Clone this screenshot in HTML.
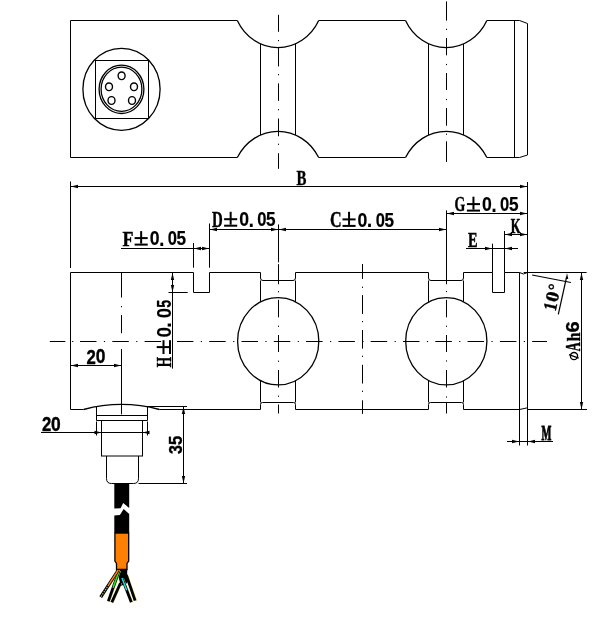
<!DOCTYPE html>
<html><head><meta charset="utf-8"><style>
html,body{margin:0;padding:0;background:#fff;overflow:hidden;}
svg{display:block;will-change:transform;}
</style></head><body>
<svg width="612" height="620" viewBox="0 0 612 620">
<rect width="612" height="620" fill="#fff"/>
<g stroke="#000" fill="none" stroke-linecap="butt">
<path d="M 237.30 20.5 H 70.5 V 157.5 H 237.30 M 318.70 157.5 H 405.50 M 486.90 157.5 H 519.5 L 527.5 155 V 23.5 L 519.5 20.5 H 486.90 M 405.50 20.5 H 318.70" stroke-width="1" fill="none"/>
<path d="M 237.30 20.5 A 45.55 49.20 0 0 0 318.70 20.5 M 237.30 157.5 A 46.27 49.97 0 0 1 318.70 157.5 M 405.50 20.5 A 45.55 49.20 0 0 0 486.90 20.5 M 405.50 157.5 A 46.27 49.97 0 0 1 486.90 157.5 " stroke-width="1.3" fill="none"/>
<line x1="514.5" y1="20.5" x2="514.5" y2="157.5" stroke-width="1"/>
<line x1="260.5" y1="43.82" x2="260.5" y2="135.01" stroke-width="1"/>
<line x1="295.5" y1="43.82" x2="295.5" y2="135.01" stroke-width="1"/>
<line x1="428.5" y1="43.73" x2="428.5" y2="135.1" stroke-width="1"/>
<line x1="463.5" y1="43.91" x2="463.5" y2="134.92" stroke-width="1"/>
<g stroke-width="1.3">
<ellipse cx="121.5" cy="89.3" rx="38.6" ry="41" fill="none"/>
<rect x="95.5" y="60.5" width="53" height="58" fill="none" stroke-width="1"/>
<ellipse cx="121.5" cy="89.3" rx="22.4" ry="24.2" fill="none"/>
<ellipse cx="121.5" cy="89.3" rx="20.4" ry="22.1" fill="none"/>
<ellipse cx="121.6" cy="75.8" rx="3.5" ry="3.85" fill="none" stroke-width="1.4"/>
<ellipse cx="109" cy="86.8" rx="3.5" ry="3.85" fill="none" stroke-width="1.4"/>
<ellipse cx="134" cy="86.8" rx="3.5" ry="3.85" fill="none" stroke-width="1.4"/>
<ellipse cx="111.5" cy="100.5" rx="3.5" ry="3.85" fill="none" stroke-width="1.4"/>
<ellipse cx="132" cy="100.5" rx="3.5" ry="3.85" fill="none" stroke-width="1.4"/>
</g>
<line x1="278.5" y1="14.8" x2="278.5" y2="31.8" stroke-width="1"/>
<line x1="278.5" y1="40.0" x2="278.5" y2="41.2" stroke-width="1"/>
<line x1="278.5" y1="48.1" x2="278.5" y2="66.4" stroke-width="1"/>
<line x1="278.5" y1="74.0" x2="278.5" y2="75.19999999999999" stroke-width="1"/>
<line x1="278.5" y1="83.4" x2="278.5" y2="100.9" stroke-width="1"/>
<line x1="278.5" y1="109.10000000000001" x2="278.5" y2="110.3" stroke-width="1"/>
<line x1="278.5" y1="118.5" x2="278.5" y2="136.2" stroke-width="1"/>
<line x1="278.5" y1="143.70000000000002" x2="278.5" y2="144.9" stroke-width="1"/>
<line x1="278.5" y1="153.2" x2="278.5" y2="168.8" stroke-width="1"/>
<line x1="446.5" y1="1.4" x2="446.5" y2="20.6" stroke-width="1"/>
<line x1="446.5" y1="28.799999999999997" x2="446.5" y2="30.0" stroke-width="1"/>
<line x1="446.5" y1="38" x2="446.5" y2="55.3" stroke-width="1"/>
<line x1="446.5" y1="63.9" x2="446.5" y2="65.1" stroke-width="1"/>
<line x1="446.5" y1="73" x2="446.5" y2="90" stroke-width="1"/>
<line x1="446.5" y1="98.9" x2="446.5" y2="100.1" stroke-width="1"/>
<line x1="446.5" y1="108" x2="446.5" y2="125.7" stroke-width="1"/>
<line x1="446.5" y1="133.6" x2="446.5" y2="134.79999999999998" stroke-width="1"/>
<line x1="446.5" y1="141.3" x2="446.5" y2="161.9" stroke-width="1"/>
<line x1="278.5" y1="224.4" x2="278.5" y2="262.3" stroke-width="1"/>
<line x1="278.5" y1="264.2" x2="278.5" y2="284.3" stroke-width="1"/>
<line x1="278.5" y1="291.09999999999997" x2="278.5" y2="292.3" stroke-width="1"/>
<line x1="278.5" y1="299.8" x2="278.5" y2="317.3" stroke-width="1"/>
<line x1="278.5" y1="325.7" x2="278.5" y2="326.90000000000003" stroke-width="1"/>
<line x1="278.5" y1="335" x2="278.5" y2="352" stroke-width="1"/>
<line x1="278.5" y1="360.59999999999997" x2="278.5" y2="361.8" stroke-width="1"/>
<line x1="278.5" y1="370" x2="278.5" y2="387.5" stroke-width="1"/>
<line x1="278.5" y1="395.59999999999997" x2="278.5" y2="396.8" stroke-width="1"/>
<line x1="278.5" y1="404.5" x2="278.5" y2="413.5" stroke-width="1"/>
<line x1="446.5" y1="210.4" x2="446.5" y2="284.3" stroke-width="1"/>
<line x1="446.5" y1="290.9" x2="446.5" y2="292.1" stroke-width="1"/>
<line x1="446.5" y1="299.8" x2="446.5" y2="317.3" stroke-width="1"/>
<line x1="446.5" y1="325.7" x2="446.5" y2="326.90000000000003" stroke-width="1"/>
<line x1="446.5" y1="335" x2="446.5" y2="352" stroke-width="1"/>
<line x1="446.5" y1="360.4" x2="446.5" y2="361.6" stroke-width="1"/>
<line x1="446.5" y1="370" x2="446.5" y2="387.5" stroke-width="1"/>
<line x1="446.5" y1="396.4" x2="446.5" y2="397.6" stroke-width="1"/>
<line x1="446.5" y1="402" x2="446.5" y2="413.5" stroke-width="1"/>
<line x1="362.5" y1="264" x2="362.5" y2="278.9" stroke-width="1"/>
<line x1="362.5" y1="286.7" x2="362.5" y2="287.90000000000003" stroke-width="1"/>
<line x1="362.5" y1="295.1" x2="362.5" y2="313.9" stroke-width="1"/>
<line x1="362.5" y1="321.0" x2="362.5" y2="322.20000000000005" stroke-width="1"/>
<line x1="362.5" y1="330" x2="362.5" y2="348.6" stroke-width="1"/>
<line x1="362.5" y1="355.7" x2="362.5" y2="356.90000000000003" stroke-width="1"/>
<line x1="362.5" y1="364.8" x2="362.5" y2="383.5" stroke-width="1"/>
<line x1="362.5" y1="390.7" x2="362.5" y2="391.90000000000003" stroke-width="1"/>
<line x1="362.5" y1="400.3" x2="362.5" y2="413.9" stroke-width="1"/>
<line x1="121.5" y1="272.5" x2="121.5" y2="297.6" stroke-width="1"/>
<line x1="121.5" y1="306.0" x2="121.5" y2="307.20000000000005" stroke-width="1"/>
<line x1="121.5" y1="315" x2="121.5" y2="333.2" stroke-width="1"/>
<line x1="121.5" y1="349" x2="121.5" y2="414.3" stroke-width="1"/>
<line x1="49.8" y1="341.5" x2="65.3" y2="341.5" stroke-width="1"/>
<line x1="72.10000000000001" y1="341.5" x2="73.3" y2="341.5" stroke-width="1"/>
<line x1="80.0" y1="341.5" x2="96.5" y2="341.5" stroke-width="1"/>
<line x1="103.9" y1="341.5" x2="105.1" y2="341.5" stroke-width="1"/>
<line x1="112.3" y1="341.5" x2="128.8" y2="341.5" stroke-width="1"/>
<line x1="136.20000000000002" y1="341.5" x2="137.4" y2="341.5" stroke-width="1"/>
<line x1="144.6" y1="341.5" x2="161.1" y2="341.5" stroke-width="1"/>
<line x1="177" y1="341.5" x2="193.39999999999998" y2="341.5" stroke-width="1"/>
<line x1="200.79999999999998" y1="341.5" x2="201.99999999999997" y2="341.5" stroke-width="1"/>
<line x1="209.2" y1="341.5" x2="225.7" y2="341.5" stroke-width="1"/>
<line x1="233.1" y1="341.5" x2="234.29999999999998" y2="341.5" stroke-width="1"/>
<line x1="241.5" y1="341.5" x2="258.0" y2="341.5" stroke-width="1"/>
<line x1="265.4" y1="341.5" x2="266.6" y2="341.5" stroke-width="1"/>
<line x1="273.8" y1="341.5" x2="290.3" y2="341.5" stroke-width="1"/>
<line x1="297.7" y1="341.5" x2="298.90000000000003" y2="341.5" stroke-width="1"/>
<line x1="306.1" y1="341.5" x2="322.6" y2="341.5" stroke-width="1"/>
<line x1="330.0" y1="341.5" x2="331.20000000000005" y2="341.5" stroke-width="1"/>
<line x1="338.40000000000003" y1="341.5" x2="354.90000000000003" y2="341.5" stroke-width="1"/>
<line x1="362.3" y1="341.5" x2="363.50000000000006" y2="341.5" stroke-width="1"/>
<line x1="370.70000000000005" y1="341.5" x2="387.20000000000005" y2="341.5" stroke-width="1"/>
<line x1="394.6" y1="341.5" x2="395.80000000000007" y2="341.5" stroke-width="1"/>
<line x1="403.00000000000006" y1="341.5" x2="419.50000000000006" y2="341.5" stroke-width="1"/>
<line x1="426.90000000000003" y1="341.5" x2="428.1000000000001" y2="341.5" stroke-width="1"/>
<line x1="435.30000000000007" y1="341.5" x2="451.80000000000007" y2="341.5" stroke-width="1"/>
<line x1="459.20000000000005" y1="341.5" x2="460.4000000000001" y2="341.5" stroke-width="1"/>
<line x1="467.6000000000001" y1="341.5" x2="484.1000000000001" y2="341.5" stroke-width="1"/>
<line x1="491.50000000000006" y1="341.5" x2="492.7000000000001" y2="341.5" stroke-width="1"/>
<line x1="499.9000000000001" y1="341.5" x2="516.4000000000001" y2="341.5" stroke-width="1"/>
<line x1="523.8000000000001" y1="341.5" x2="525.0000000000001" y2="341.5" stroke-width="1"/>
<line x1="532.2" y1="341.5" x2="547" y2="341.5" stroke-width="1"/>
<path d="M 70.5 272.5 H 193.5 V 292.5 H 209.5 V 272.5 H 260.5 V 278 Q 260.5 280.5 263 280.5 H 293 Q 295.5 280.5 295.5 278 V 272.5 H 428.5 V 278 Q 428.5 280.5 431 280.5 H 461 Q 463.5 280.5 463.5 278 V 272.5 H 492.5 V 292.5 H 504.5 V 272.5 H 519.5 " stroke-width="1" fill="none"/>
<path d="M 70.5 272.5 V 409.5 H 83.6 M 159.4 409.5 H 260.5 V 404.5 Q 260.5 402.5 262.5 402.5 H 293.5 Q 295.5 402.5 295.5 404.5 V 409.5 H 428.5 V 404.5 Q 428.5 402.5 430.5 402.5 H 461.5 Q 463.5 402.5 463.5 404.5 V 409.5 H 519.5" stroke-width="1" fill="none"/>
<path d="M 83.6 409.5 A 147 147 0 0 1 159.4 409.5" stroke-width="1.3" fill="none"/>
<line x1="519.5" y1="272.5" x2="519.5" y2="445.5" stroke-width="1"/>
<line x1="527.5" y1="182" x2="527.5" y2="445.5" stroke-width="1"/>
<path d="M 519.5 272.5 L 523.5 274 L 527.5 272.5" stroke-width="1" fill="none"/>
<path d="M 519.5 409.5 L 527.5 407.8" stroke-width="1" fill="none"/>
<ellipse cx="278.2" cy="341.25" rx="40.6" ry="43.7" fill="none" stroke-width="1.3"/>
<line x1="260.5" y1="280.5" x2="260.5" y2="301.92" stroke-width="1"/>
<line x1="260.5" y1="380.58" x2="260.5" y2="402.5" stroke-width="1"/>
<line x1="295.5" y1="280.5" x2="295.5" y2="301.72" stroke-width="1"/>
<line x1="295.5" y1="380.78" x2="295.5" y2="402.5" stroke-width="1"/>
<ellipse cx="446.3" cy="341.25" rx="40.6" ry="43.7" fill="none" stroke-width="1.3"/>
<line x1="428.5" y1="280.5" x2="428.5" y2="301.97" stroke-width="1"/>
<line x1="428.5" y1="380.53" x2="428.5" y2="402.5" stroke-width="1"/>
<line x1="463.5" y1="280.5" x2="463.5" y2="301.67" stroke-width="1"/>
<line x1="463.5" y1="380.83" x2="463.5" y2="402.5" stroke-width="1"/>
<line x1="96.5" y1="406" x2="96.5" y2="420.5" stroke-width="1"/>
<line x1="147.5" y1="406.5" x2="147.5" y2="420.5" stroke-width="1"/>
<line x1="96.5" y1="415.5" x2="147.5" y2="415.5" stroke-width="1"/>
<line x1="96.5" y1="420.5" x2="147.5" y2="420.5" stroke-width="1"/>
<rect x="101.5" y="420.5" width="41" height="35.5" fill="none"/>
<path d="M 106.5 456 V 478.5 Q 106.5 483.5 111.5 483.5 H 133.5 Q 138.5 483.5 138.5 478.5 V 456" stroke-width="1" fill="none"/>
<path d="M 114.3 483.5 H 129.2 V 508 L 123.2 503 L 120.6 508.3 L 114.3 508.6 Z" fill="#000" stroke="none"/>
<path d="M 114.3 515.4 L 119.9 515 L 123.7 509 L 129.2 514 V 533 H 114.3 Z" fill="#000" stroke="none"/>
<path d="M 114.9 533.2 H 128.7 V 561 L 127 563.5 V 569.5 H 116.5 V 563.5 L 114.9 561 Z" fill="#ff7f00" stroke-width="1.3"/>
<path d="M 116.2 569 H 127.2 V 583 L 121 586 Z" fill="#000" stroke="none"/>
<line x1="121.9" y1="583" x2="113.2" y2="602.3" stroke="#e8e060" stroke-width="1"/>
<line x1="120.5" y1="583" x2="111.8" y2="602.3" stroke-width="2.8"/>
<line x1="127.7" y1="575" x2="136.5" y2="600.6" stroke="#e8e060" stroke-width="1"/>
<line x1="126.3" y1="575" x2="135.1" y2="600.6" stroke-width="2.8"/>
<line x1="123.4" y1="578" x2="132.70000000000002" y2="602.3" stroke="#e8e060" stroke-width="1"/>
<line x1="122" y1="578" x2="131.3" y2="602.3" stroke-width="2.8"/>
<line x1="122" y1="578" x2="126.65" y2="590.15" stroke="#22dddd" stroke-width="1.5"/>
<line x1="120.4" y1="571" x2="109.7" y2="601.3" stroke="#e8e060" stroke-width="1"/>
<line x1="119" y1="571" x2="108.3" y2="601.3" stroke-width="2.8"/>
<line x1="119" y1="571" x2="113.11" y2="587.66" stroke="#22ee22" stroke-width="1.5"/>
<line x1="119.7" y1="570" x2="102.10000000000001" y2="597.2" stroke="#e8e060" stroke-width="1"/>
<line x1="118.3" y1="570" x2="100.7" y2="597.2" stroke-width="3.2"/>
<line x1="118.3" y1="570" x2="108.62" y2="584.96" stroke="#ff7f00" stroke-width="1.5"/>
<line x1="108.62" y1="584.96" x2="100.7" y2="597.2" stroke="#d8c850" stroke-width="1.2" stroke-dasharray="1.2 1.3"/>
<line x1="70.5" y1="181.5" x2="70.5" y2="268" stroke-width="1"/>
<line x1="70.5" y1="186.5" x2="527.5" y2="186.5" stroke-width="1"/>
<polygon points="71,186.5 78,184.8 78,188.2" fill="#000" stroke="none"/>
<polygon points="527,186.5 520,184.8 520,188.2" fill="#000" stroke="none"/>
<line x1="121" y1="248.5" x2="209.5" y2="248.5" stroke-width="1"/>
<line x1="193.5" y1="243" x2="193.5" y2="267.7" stroke-width="1"/>
<line x1="209.5" y1="223.5" x2="209.5" y2="267.7" stroke-width="1"/>
<polygon points="194,248.5 201,246.8 201,250.2" fill="#000" stroke="none"/>
<polygon points="209,248.5 202,246.8 202,250.2" fill="#000" stroke="none"/>
<line x1="209.5" y1="229.5" x2="446.5" y2="229.5" stroke-width="1"/>
<polygon points="210,229.5 217,227.8 217,231.2" fill="#000" stroke="none"/>
<polygon points="278,229.5 271,227.8 271,231.2" fill="#000" stroke="none"/>
<polygon points="279,229.5 286,227.8 286,231.2" fill="#000" stroke="none"/>
<polygon points="446,229.5 439,227.8 439,231.2" fill="#000" stroke="none"/>
<line x1="446.5" y1="213.5" x2="527.5" y2="213.5" stroke-width="1"/>
<polygon points="447,213.5 454,211.8 454,215.2" fill="#000" stroke="none"/>
<polygon points="527,213.5 520,211.8 520,215.2" fill="#000" stroke="none"/>
<line x1="504.5" y1="234.5" x2="527.5" y2="234.5" stroke-width="1"/>
<line x1="504.5" y1="231" x2="504.5" y2="272.5" stroke-width="1"/>
<polygon points="505,234.5 512,232.8 512,236.2" fill="#000" stroke="none"/>
<polygon points="527,234.5 520,232.8 520,236.2" fill="#000" stroke="none"/>
<line x1="466" y1="248.5" x2="518" y2="248.5" stroke-width="1"/>
<line x1="492.5" y1="243.7" x2="492.5" y2="272.5" stroke-width="1"/>
<polygon points="492,248.5 485,246.8 485,250.2" fill="#000" stroke="none"/>
<polygon points="505,248.5 512,246.8 512,250.2" fill="#000" stroke="none"/>
<line x1="172.5" y1="272.5" x2="172.5" y2="368.6" stroke-width="1"/>
<line x1="168.5" y1="292.5" x2="187.7" y2="292.5" stroke-width="1"/>
<polygon points="172.5,273 170.8,280 174.2,280" fill="#000" stroke="none"/>
<polygon points="172.5,292 170.8,285 174.2,285" fill="#000" stroke="none"/>
<line x1="70.5" y1="365.5" x2="121.5" y2="365.5" stroke-width="1"/>
<polygon points="71,365.5 78,363.8 78,367.2" fill="#000" stroke="none"/>
<polygon points="121,365.5 114,363.8 114,367.2" fill="#000" stroke="none"/>
<line x1="41" y1="432.5" x2="147.5" y2="432.5" stroke-width="1"/>
<line x1="96.5" y1="421.5" x2="96.5" y2="435.5" stroke-width="1"/>
<line x1="147.5" y1="421.5" x2="147.5" y2="435.5" stroke-width="1"/>
<polygon points="101.5,432.5 94.5,430.8 94.5,434.2" fill="#000" stroke="none"/>
<polygon points="142.5,432.5 149.5,430.8 149.5,434.2" fill="#000" stroke="none"/>
<line x1="146.5" y1="406.5" x2="187" y2="406.5" stroke-width="1"/>
<line x1="138.5" y1="483.5" x2="187" y2="483.5" stroke-width="1"/>
<line x1="183.5" y1="406.5" x2="183.5" y2="483.5" stroke-width="1"/>
<polygon points="183.5,407 181.8,414 185.2,414" fill="#000" stroke="none"/>
<polygon points="183.5,483 181.8,476 185.2,476" fill="#000" stroke="none"/>
<line x1="523.7" y1="272.5" x2="586.6" y2="272.5" stroke-width="1"/>
<line x1="527.5" y1="409.5" x2="587" y2="409.5" stroke-width="1"/>
<line x1="581.5" y1="272.5" x2="581.5" y2="409.5" stroke-width="1"/>
<polygon points="581.5,273 579.8,280 583.2,280" fill="#000" stroke="none"/>
<polygon points="581.5,409 579.8,402 583.2,402" fill="#000" stroke="none"/>
<line x1="507" y1="441.5" x2="553" y2="441.5" stroke-width="1"/>
<polygon points="519,441.5 512,439.8 512,443.2" fill="#000" stroke="none"/>
<polygon points="528,441.5 535,439.8 535,443.2" fill="#000" stroke="none"/>
<line x1="532.1" y1="275" x2="570.9" y2="282.5" stroke-width="1.2"/>
<line x1="566.6" y1="277" x2="558.3" y2="314.3" stroke-width="1.2"/>
<polygon points="567,273 565.7,279 568.3,279" fill="#000" stroke="none"/>
</g>
<g fill="#000">
<text transform="matrix(0.17963 0 0 0.21538 122.541 245.600)" font-family="Liberation Serif" font-weight="bold" font-size="100" stroke="#000" stroke-width="1.77">F</text>
<g fill="#000"><rect x="140.15" y="231.10" width="2.0" height="12.50"/><rect x="134.60" y="237.10" width="13.10" height="2.0"/><rect x="134.60" y="243.60" width="13.10" height="2.0"/></g>
<text transform="matrix(0.17660 0 0 0.19718 149.694 245.403)" font-family="Liberation Sans" font-weight="bold" font-size="100" stroke="#000" stroke-width="0.80">0</text>
<text transform="matrix(0.20000 0 0 0.21333 158.900 245.600)" font-family="Liberation Sans" font-weight="bold" font-size="100" stroke="#000" stroke-width="0.00">.</text>
<text transform="matrix(0.16596 0 0 0.19718 167.736 245.403)" font-family="Liberation Sans" font-weight="bold" font-size="100" stroke="#000" stroke-width="0.83">0</text>
<text transform="matrix(0.17200 0 0 0.20000 176.584 245.400)" font-family="Liberation Sans" font-weight="bold" font-size="100" stroke="#000" stroke-width="1.08">5</text>
<text transform="matrix(0.14923 0 0 0.22154 212.102 226.700)" font-family="Liberation Serif" font-weight="bold" font-size="100" stroke="#000" stroke-width="1.89">D</text>
<g fill="#000"><rect x="229.65" y="211.80" width="2.0" height="12.90"/><rect x="224.10" y="218.20" width="13.10" height="2.0"/><rect x="224.10" y="224.70" width="13.10" height="2.0"/></g>
<text transform="matrix(0.17660 0 0 0.20282 239.194 226.497)" font-family="Liberation Sans" font-weight="bold" font-size="100" stroke="#000" stroke-width="0.79">0</text>
<text transform="matrix(0.20000 0 0 0.21333 248.400 226.700)" font-family="Liberation Sans" font-weight="bold" font-size="100" stroke="#000" stroke-width="0.00">.</text>
<text transform="matrix(0.16596 0 0 0.20282 257.236 226.497)" font-family="Liberation Sans" font-weight="bold" font-size="100" stroke="#000" stroke-width="0.81">0</text>
<text transform="matrix(0.17200 0 0 0.20571 266.084 226.494)" font-family="Liberation Sans" font-weight="bold" font-size="100" stroke="#000" stroke-width="1.06">5</text>
<text transform="matrix(0.16167 0 0 0.22121 329.992 226.679)" font-family="Liberation Serif" font-weight="bold" font-size="100" stroke="#000" stroke-width="1.83">C</text>
<g fill="#000"><rect x="348.05" y="211.80" width="2.0" height="13.10"/><rect x="342.50" y="218.40" width="13.10" height="2.0"/><rect x="342.50" y="224.90" width="13.10" height="2.0"/></g>
<text transform="matrix(0.17660 0 0 0.20563 357.594 226.694)" font-family="Liberation Sans" font-weight="bold" font-size="100" stroke="#000" stroke-width="0.78">0</text>
<text transform="matrix(0.20000 0 0 0.21333 366.800 226.900)" font-family="Liberation Sans" font-weight="bold" font-size="100" stroke="#000" stroke-width="0.00">.</text>
<text transform="matrix(0.16596 0 0 0.20563 375.636 226.694)" font-family="Liberation Sans" font-weight="bold" font-size="100" stroke="#000" stroke-width="0.81">0</text>
<text transform="matrix(0.17200 0 0 0.20857 384.484 226.691)" font-family="Liberation Sans" font-weight="bold" font-size="100" stroke="#000" stroke-width="1.05">5</text>
<text transform="matrix(0.13857 0 0 0.21818 454.507 211.382)" font-family="Liberation Serif" font-weight="bold" font-size="100" stroke="#000" stroke-width="1.96">G</text>
<g fill="#000"><rect x="472.45" y="196.70" width="2.0" height="12.90"/><rect x="466.90" y="203.10" width="13.10" height="2.0"/><rect x="466.90" y="209.60" width="13.10" height="2.0"/></g>
<text transform="matrix(0.17660 0 0 0.20282 481.994 211.397)" font-family="Liberation Sans" font-weight="bold" font-size="100" stroke="#000" stroke-width="0.79">0</text>
<text transform="matrix(0.20000 0 0 0.21333 491.200 211.600)" font-family="Liberation Sans" font-weight="bold" font-size="100" stroke="#000" stroke-width="0.00">.</text>
<text transform="matrix(0.16596 0 0 0.20282 500.036 211.397)" font-family="Liberation Sans" font-weight="bold" font-size="100" stroke="#000" stroke-width="0.81">0</text>
<text transform="matrix(0.17200 0 0 0.20571 508.884 211.394)" font-family="Liberation Sans" font-weight="bold" font-size="100" stroke="#000" stroke-width="1.06">5</text>
<text transform="matrix(0.14839 0 0 0.21077 296.603 184.600)" font-family="Liberation Serif" font-weight="bold" font-size="100" stroke="#000" stroke-width="1.95">B</text>
<text transform="matrix(0.12533 0 0 0.20308 510.649 232.700)" font-family="Liberation Serif" font-weight="bold" font-size="100" stroke="#000" stroke-width="3.04">K</text>
<text transform="matrix(0.14333 0 0 0.21385 468.113 246.600)" font-family="Liberation Serif" font-weight="bold" font-size="100" stroke="#000" stroke-width="2.80">E</text>
<text transform="matrix(0.10449 0 0 0.20308 541.491 439.500)" font-family="Liberation Serif" font-weight="bold" font-size="100" stroke="#000" stroke-width="4.55">M</text>
<text transform="matrix(0.16735 0 0 0.19571 86.598 363.600)" font-family="Liberation Sans" font-weight="bold" font-size="100" stroke="#000" stroke-width="1.93">2</text>
<text transform="matrix(0.17447 0 0 0.19296 95.802 363.407)" font-family="Liberation Sans" font-weight="bold" font-size="100" stroke="#000" stroke-width="1.91">0</text>
<text transform="matrix(0.16735 0 0 0.20571 41.998 430.900)" font-family="Liberation Sans" font-weight="bold" font-size="100" stroke="#000" stroke-width="1.88">2</text>
<text transform="matrix(0.17447 0 0 0.20282 51.002 430.697)" font-family="Liberation Sans" font-weight="bold" font-size="100" stroke="#000" stroke-width="1.86">0</text>
<text transform="translate(171.0 366.9) rotate(-90) matrix(0.13243 0 0 0.21231 -0.265 0.000)" font-family="Liberation Serif" font-weight="bold" font-size="100" stroke="#000" stroke-width="2.03">H</text>
<g fill="#000" transform="translate(171.0 366.9) rotate(-90)"><rect x="18.80" y="-14.30" width="2.0" height="12.30"/><rect x="12.90" y="-8.50" width="13.80" height="2.0"/><rect x="12.90" y="-2.00" width="13.80" height="2.0"/></g>
<text transform="translate(171.0 366.9) rotate(-90) matrix(0.18936 0 0 0.19437 29.343 -0.194)" font-family="Liberation Sans" font-weight="bold" font-size="100" stroke="#000" stroke-width="0.78">0</text>
<text transform="translate(171.0 366.9) rotate(-90) matrix(0.21429 0 0 0.21333 38.900 0.000)" font-family="Liberation Sans" font-weight="bold" font-size="100" stroke="#000" stroke-width="0.00">.</text>
<text transform="translate(171.0 366.9) rotate(-90) matrix(0.18511 0 0 0.19437 48.560 -0.194)" font-family="Liberation Sans" font-weight="bold" font-size="100" stroke="#000" stroke-width="0.79">0</text>
<text transform="translate(171.0 366.9) rotate(-90) matrix(0.14200 0 0 0.19714 59.174 -0.197)" font-family="Liberation Sans" font-weight="bold" font-size="100" stroke="#000" stroke-width="1.18">5</text>
<text transform="translate(182.5 453.8) rotate(-90) matrix(0.16000 0 0 0.19014 -0.320 -0.190)" font-family="Liberation Sans" font-weight="bold" font-size="100" stroke="#000" stroke-width="2.00">3</text>
<text transform="translate(182.5 453.8) rotate(-90) matrix(0.16800 0 0 0.19286 8.896 -0.193)" font-family="Liberation Sans" font-weight="bold" font-size="100" stroke="#000" stroke-width="1.94">5</text>
<text transform="translate(579.6 360.0) rotate(-90) matrix(0.12429 0 0 0.20152 8.776 0.000)" font-family="Liberation Serif" font-weight="bold" font-size="100" stroke="#000" stroke-width="2.15">A</text>
<text transform="translate(579.6 360.0) rotate(-90) matrix(0.16346 0 0 0.18406 18.473 0.000)" font-family="Liberation Serif" font-weight="bold" font-size="100" stroke="#000" stroke-width="2.01">h</text>
<text transform="translate(579.6 360.0) rotate(-90) matrix(0.20000 0 0 0.17887 27.600 -0.179)" font-family="Liberation Sans" font-weight="bold" font-size="100" stroke="#000" stroke-width="1.85">6</text>
<g fill="none" stroke="#000" stroke-width="1.3" transform="translate(579.6 360) rotate(-90)"><ellipse cx="3.9" cy="-5.6" rx="3.6" ry="3.6"/><line x1="1.8" y1="-0.9" x2="5.4" y2="-10.6"/></g>
<text transform="translate(555.9 310.6) rotate(-77) matrix(0.16216 0 0 0.18939 -1.297 0.000)" font-family="Liberation Serif" font-weight="bold" font-size="100" stroke="#000" stroke-width="1.99">1</text>
<text transform="translate(555.9 310.6) rotate(-77) matrix(0.20476 0 0 0.18657 7.781 -0.373)" font-family="Liberation Serif" font-weight="bold" font-size="100" stroke="#000" stroke-width="1.79">0</text>
<text transform="translate(555.9 310.6) rotate(-77) matrix(0.16667 0 0 0.17333 18.967 -1.060)" font-family="Liberation Serif" font-weight="bold" font-size="100" stroke="#000" stroke-width="2.06">°</text>
</g>
</svg>
</body></html>
